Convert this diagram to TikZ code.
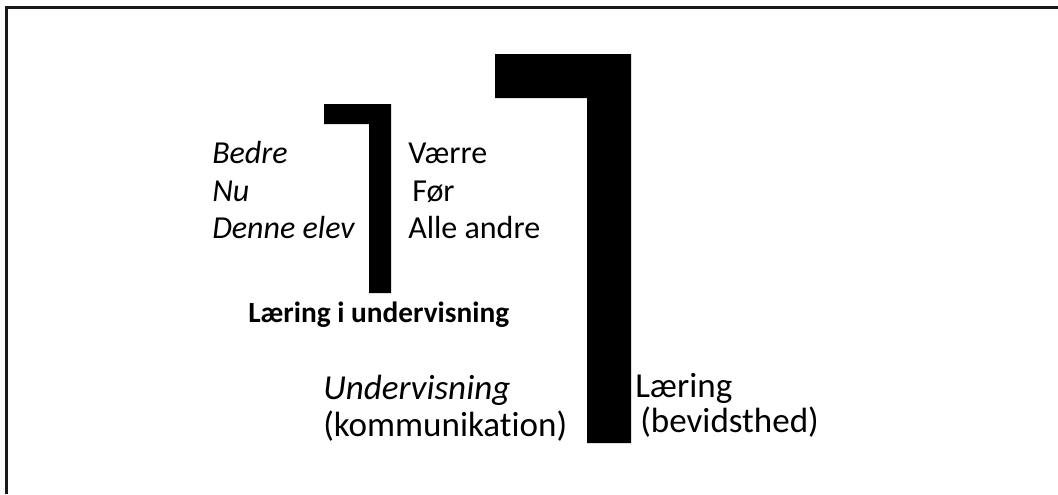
\documentclass[tikz,border=0pt]{standalone}
\usepackage{fontspec}
\setmainfont{Carlito}[Ligatures=NoCommon]
\begin{document}
\begin{tikzpicture}[x=0.75pt,y=-0.75pt,
        word/.style={anchor=base west,inner sep=0pt,font=\fontsize{24}{29}\selectfont},
        slantword/.style={word,font=\fontsize{24}{29}\selectfont\itshape},
        bigword/.style={anchor=base west,inner sep=0pt,font=\fontsize{26.3}{31}\selectfont},
        boldword/.style={anchor=base west,inner sep=0pt,font=\fontsize{22}{26}\selectfont\bfseries}]
        \useasboundingbox (0,0) rectangle (1058,494);
        % Frame (top and left edge only)
        \draw[line width=1.6pt,black!90] (6.5,494) -- (6.5,7.5) -- (1058,7.5);
        % Small bracket
        \fill (324,104) -- (391,104) -- (391,293) -- (369,293) -- (369,124) -- (324,124) -- cycle;
        % Big bracket
        \fill (495,54) -- (631,54) -- (631,443) -- (587,443) -- (587,98) -- (495,98) -- cycle;
        % Left column
        \node[slantword] (bedre) at (212,163) {Bedre};
        \node[slantword] (nu) at (212,201) {Nu};
        \node[slantword] (denne) at (212,238) {Denne elev};
        % Right column
        \node[word] (vaerre) at (408,163) {Værre};
        \node[word] (foer) at (412,201) {Før};
        \node[word] (andre) at (408,238) {Alle andre};
        % Caption
        \node[boldword] (laeringiu) at (248,322) {Læring i undervisning};
        % Bottom pair
        \node[bigword,font=\fontsize{26.3}{31}\selectfont\itshape] (underv) at (323,399) {Undervisning};
        \node[bigword] (komm) at (323,436) {(kommunikation)};
        \node[bigword] (laering) at (635,397) {Læring};
        \node[bigword] (bevid) at (640,432) {(bevidsthed)};
\end{tikzpicture}
\end{document}
